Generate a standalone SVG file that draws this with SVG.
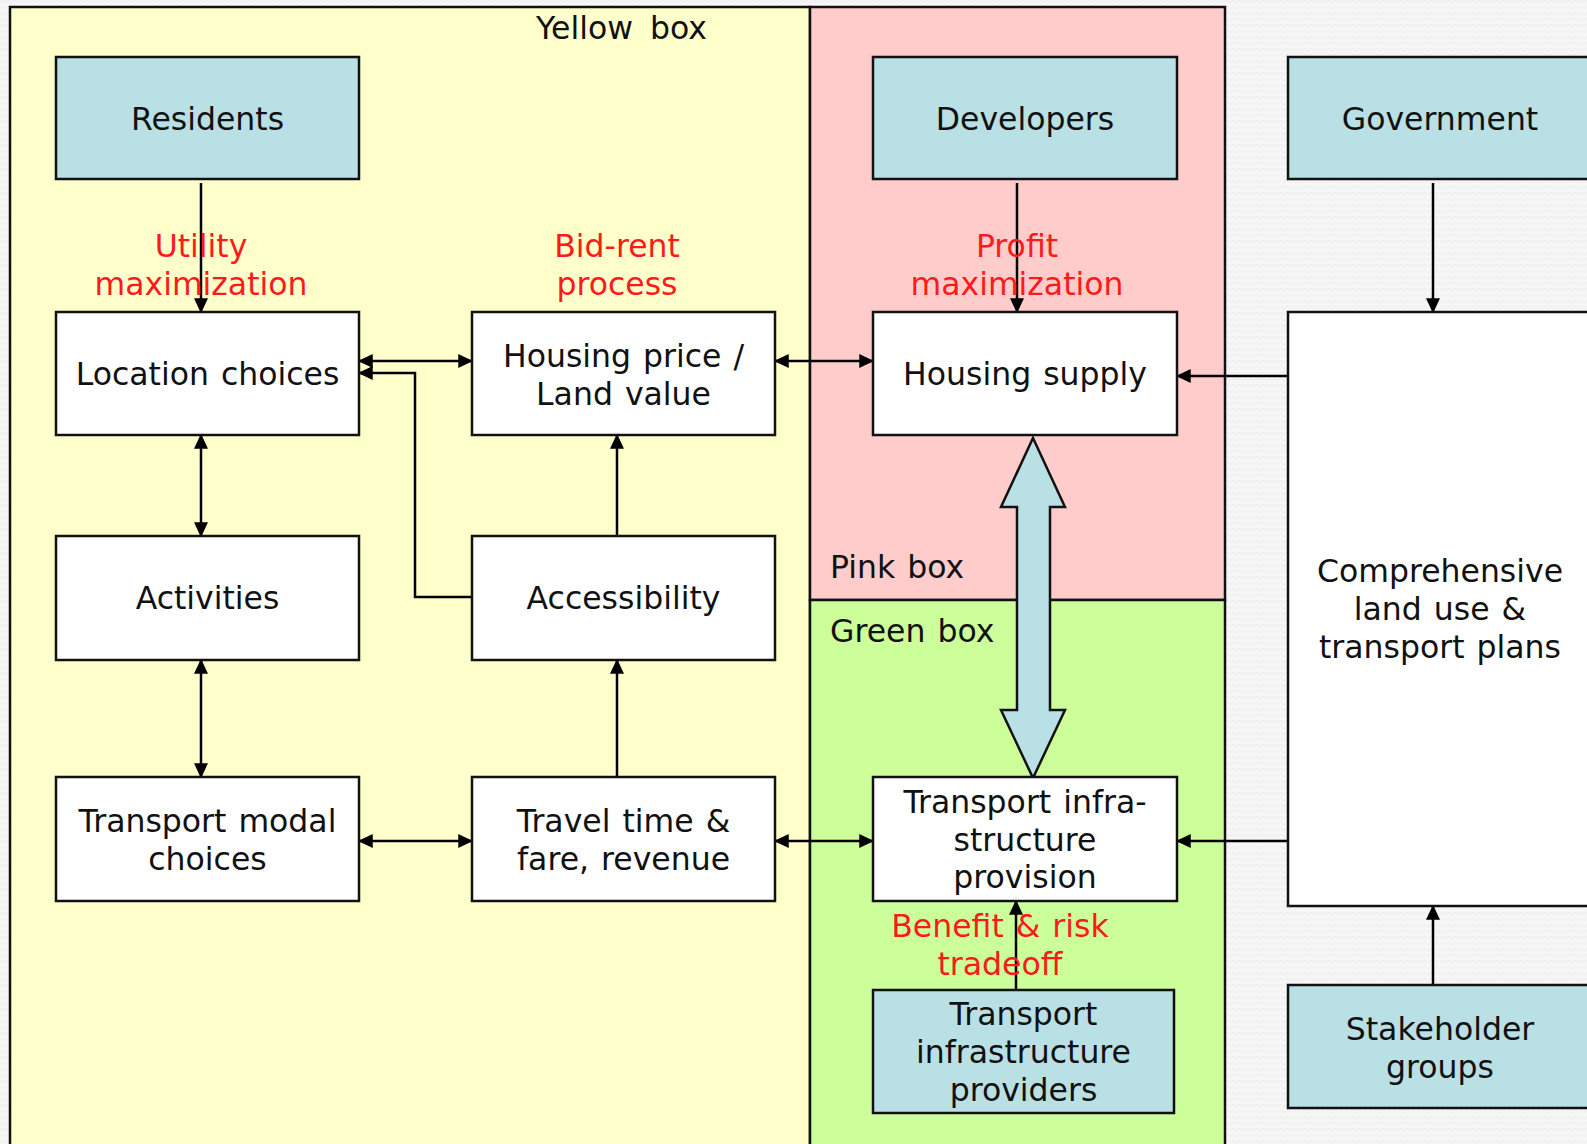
<svg xmlns="http://www.w3.org/2000/svg" width="1587" height="1144" viewBox="0 0 1587 1144">
  <defs>
    <style>
      .zone { stroke: #111; stroke-width: 2.5; }
      .box { fill: #ffffff; stroke: #111; stroke-width: 2.5; }
      .actor { fill: #b9e0e5; stroke: #111; stroke-width: 2.5; }
      text { font-family: "DejaVu Sans", Verdana, sans-serif; font-size: 31.5px; word-spacing: 2px; fill: #111; }
      .c { text-anchor: middle; }
      .red { fill: #ff1a1a; text-anchor: middle; }
      .link { fill: none; stroke: #000; stroke-width: 2.5; }
    </style>
    <marker id="head" viewBox="0 0 12 12" refX="11" refY="6" markerWidth="15" markerHeight="14" markerUnits="userSpaceOnUse" orient="auto-start-reverse" preserveAspectRatio="none">
      <path d="M0,0 L12,6 L0,12 Z" fill="#000"/>
    </marker>
    <pattern id="weave" width="6" height="6" patternUnits="userSpaceOnUse">
      <rect width="6" height="6" fill="#f6f6f6"/>
      <path d="M0,3 L3,0 L6,3" fill="none" stroke="#ececec" stroke-width="1"/>
    </pattern>
  </defs>

  <!-- page background -->
  <rect x="0" y="0" width="1587" height="1144" fill="url(#weave)"/>

  <!-- zones -->
  <g id="zones">
    <rect id="yellow-zone" class="zone" x="10" y="7" width="800" height="1140" fill="#ffffcc"/>
    <rect id="pink-zone" class="zone" x="810" y="7" width="415" height="593" fill="#ffcccc"/>
    <rect id="green-zone" class="zone" x="810" y="600" width="415" height="547" fill="#ccff99"/>
    <text x="536" y="39" style="word-spacing:7px">Yellow box</text>
    <text x="830" y="578">Pink box</text>
    <text x="830" y="642">Green box</text>
  </g>

  <!-- connectors -->
  <g id="connectors">
    <line class="link" x1="201" y1="183" x2="201" y2="312" marker-end="url(#head)"/>
    <line class="link" x1="201" y1="435" x2="201" y2="536" marker-start="url(#head)" marker-end="url(#head)"/>
    <line class="link" x1="201" y1="660" x2="201" y2="777" marker-start="url(#head)" marker-end="url(#head)"/>
    <line class="link" x1="359" y1="361" x2="472" y2="361" marker-start="url(#head)" marker-end="url(#head)"/>
    <polyline class="link" points="472,597 415,597 415,373 359,373" marker-end="url(#head)"/>
    <line class="link" x1="617" y1="536" x2="617" y2="435" marker-end="url(#head)"/>
    <line class="link" x1="617" y1="777" x2="617" y2="660" marker-end="url(#head)"/>
    <line class="link" x1="359" y1="841" x2="472" y2="841" marker-start="url(#head)" marker-end="url(#head)"/>
    <line class="link" x1="775" y1="361" x2="873" y2="361" marker-start="url(#head)" marker-end="url(#head)"/>
    <line class="link" x1="775" y1="841" x2="873" y2="841" marker-start="url(#head)" marker-end="url(#head)"/>
    <line class="link" x1="1017" y1="183" x2="1017" y2="312" marker-end="url(#head)"/>
    <line class="link" x1="1433" y1="183" x2="1433" y2="312" marker-end="url(#head)"/>
    <line class="link" x1="1288" y1="376" x2="1177" y2="376" marker-end="url(#head)"/>
    <line class="link" x1="1288" y1="841" x2="1177" y2="841" marker-end="url(#head)"/>
    <line class="link" x1="1433" y1="985" x2="1433" y2="906" marker-end="url(#head)"/>
    <line class="link" x1="1016" y1="990" x2="1016" y2="901" marker-end="url(#head)"/>
    <!-- wide two-way block arrow between housing supply and infrastructure provision -->
    <path id="block-arrow" d="M1033,438 L1065,507 L1050,507 L1050,710 L1065,710 L1033,778 L1001,710 L1017,710 L1017,507 L1001,507 Z" fill="#b9e0e5" stroke="#111" stroke-width="2.5" stroke-linejoin="miter"/>
  </g>

  <!-- process labels -->
  <g id="labels">
    <text class="red" x="201" y="257">Utility</text>
    <text class="red" x="201" y="295">maximization</text>
    <text class="red" x="617" y="257">Bid-rent</text>
    <text class="red" x="617" y="295">process</text>
    <text class="red" x="1017" y="257">Profit</text>
    <text class="red" x="1017" y="295">maximization</text>
    <text class="red" x="1000" y="937">Benefit &amp; risk</text>
    <text class="red" x="1000" y="975">tradeoff</text>
  </g>

  <!-- actors -->
  <g id="residents">
    <rect class="actor" x="56" y="57" width="303" height="122"/>
    <text class="c" x="207.5" y="130">Residents</text>
  </g>
  <g id="developers">
    <rect class="actor" x="873" y="57" width="304" height="122"/>
    <text class="c" x="1025" y="130">Developers</text>
  </g>
  <g id="government">
    <rect class="actor" x="1288" y="57" width="310" height="122"/>
    <text class="c" x="1440" y="130">Government</text>
  </g>
  <g id="infrastructure-providers">
    <rect class="actor" x="873" y="990" width="301" height="123"/>
    <text class="c" x="1023.5" y="1025">Transport</text>
    <text class="c" x="1023.5" y="1063">infrastructure</text>
    <text class="c" x="1023.5" y="1101">providers</text>
  </g>
  <g id="stakeholder-groups">
    <rect class="actor" x="1288" y="985" width="310" height="123"/>
    <text class="c" x="1440" y="1040">Stakeholder</text>
    <text class="c" x="1440" y="1078">groups</text>
  </g>

  <!-- process boxes -->
  <g id="location-choices">
    <rect class="box" x="56" y="312" width="303" height="123"/>
    <text class="c" x="207.5" y="385">Location choices</text>
  </g>
  <g id="housing-price">
    <rect class="box" x="472" y="312" width="303" height="123"/>
    <text class="c" x="623.5" y="367">Housing price /</text>
    <text class="c" x="623.5" y="405">Land value</text>
  </g>
  <g id="housing-supply">
    <rect class="box" x="873" y="312" width="304" height="123"/>
    <text class="c" x="1025" y="385">Housing supply</text>
  </g>
  <g id="activities">
    <rect class="box" x="56" y="536" width="303" height="124"/>
    <text class="c" x="207.5" y="609">Activities</text>
  </g>
  <g id="accessibility">
    <rect class="box" x="472" y="536" width="303" height="124"/>
    <text class="c" x="623.5" y="609">Accessibility</text>
  </g>
  <g id="transport-modal-choices">
    <rect class="box" x="56" y="777" width="303" height="124"/>
    <text class="c" x="207.5" y="832">Transport modal</text>
    <text class="c" x="207.5" y="870">choices</text>
  </g>
  <g id="travel-time">
    <rect class="box" x="472" y="777" width="303" height="124"/>
    <text class="c" x="623.5" y="832">Travel time &amp;</text>
    <text class="c" x="623.5" y="870">fare, revenue</text>
  </g>
  <g id="infrastructure-provision">
    <rect class="box" x="873" y="777" width="304" height="124"/>
    <text class="c" x="1025" y="813">Transport infra-</text>
    <text class="c" x="1025" y="851">structure</text>
    <text class="c" x="1025" y="888">provision</text>
  </g>
  <g id="comprehensive-plans">
    <rect class="box" x="1288" y="312" width="310" height="594"/>
    <text class="c" x="1440" y="582">Comprehensive</text>
    <text class="c" x="1440" y="620">land use &amp;</text>
    <text class="c" x="1440" y="658">transport plans</text>
  </g>
</svg>
